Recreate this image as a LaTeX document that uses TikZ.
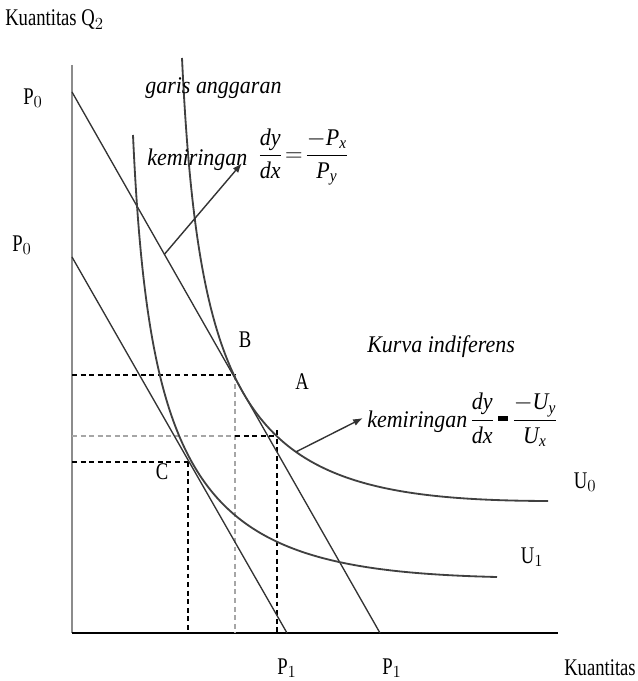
\documentclass[tikz,border=0pt]{standalone}
\usepackage{amsmath}
\usepackage{fontspec}
\setmainfont[FakeStretch=0.78,ItalicFeatures={FakeStretch=0.92}]{Liberation Serif}
\usepackage{tikz}
\usetikzlibrary{arrows.meta}

\begin{document}
\begin{tikzpicture}[x=0.025cm, y=-0.025cm,
    every node/.style={font=\fontsize{17}{19}\selectfont, inner sep=0pt},
    axis/.style={line width=1pt, black!45},
    budget/.style={line width=0.95pt, black!80},
    icurve/.style={line width=1.3pt, black!75},
    guide/.style={line width=1.1pt, dash pattern=on 3.5pt off 2.6pt},
    pointer/.style={-{Latex[length=7pt,width=5pt]}, line width=1pt, black!80}]
  \useasboundingbox (0,0) rectangle (637,681);
  \clip (0,0) rectangle (637,681);

  % axes
  \coordinate (O) at (72,633);
  \coordinate (ytop) at (72,65);
  \coordinate (xend) at (558,633);
  \draw[axis] (ytop) -- (O);
  \draw[line width=2pt] (O) -- (xend);

  % points of tangency
  \coordinate (B) at (235,375);
  \coordinate (A) at (277,436);
  \coordinate (C) at (188,462);

  % dashed guides
  \draw[guide] (72,375) -- (B);
  \draw[guide, black!35] (B) -- (235,633);
  \draw[guide, black!35] (72,436) -- (235,436);
  \draw[guide] (235,436) -- (A);
  \draw[guide] (277,430) -- (277,633);
  \draw[guide] (72,462) -- (C);
  \draw[guide] (C) -- (188,633);

  % budget lines
  \coordinate (b0top) at (72,92);
  \coordinate (b0end) at (380,633);
  \coordinate (b1top) at (72,257);
  \coordinate (b1end) at (287,633);
  \draw[budget] (b0top) -- coordinate[pos=0.3] (bsrc) (b0end);
  \draw[budget] (b1top) -- (b1end);

  % indifference curves
  \coordinate (u0top) at (182,58);
  \coordinate (u0end) at (548,501);
  \coordinate (u1top) at (133,135);
  \coordinate (u1end) at (497,577);
  \draw[icurve] (u0top) .. controls (200,440) and (260,500) .. coordinate[pos=0.59] (usrc) (u0end);
  \draw[icurve] (u1top) .. controls (150,510) and (210,570) .. (u1end);

  % labels
  \node[anchor=west] (q2) at (5,20) {Kuantitas Q$_2$};
  \node (p0a) at (33,98) {P$_0$};
  \node (p0b) at (22,245) {P$_0$};
  \node[anchor=west] (garis) at (145,88) {\textit{garis anggaran}};
  \node[anchor=west] (kem1) at (147,160) {\textit{kemiringan}};
  \node[anchor=west] (eq1) at (258,157)
    {$\dfrac{\textit{dy}}{\textit{dx}}\!=\!\dfrac{-\textit{P}_{\textit{x}}}{\textit{P}_{\textit{y}}}$};
  \node (lB) at (245,340) {B};
  \node (lA) at (302,382) {A};
  \node (lC) at (162,472) {C};
  \node[anchor=west] (kurva) at (367,347) {\textit{Kurva indiferens}};
  \node[anchor=west] (kem2) at (367,422) {\textit{kemiringan}};
  \node[anchor=west] (eq2) at (470,420)
    {$\dfrac{\textit{dy}}{\textit{dx}}\,\rule[0.22em]{0.4em}{0.2em}\,\dfrac{-\textit{U}_{\textit{y}}}{\textit{U}_{\textit{x}}}$};
  \node (u0) at (585,482) {U$_0$};
  \node (u1) at (532,557) {U$_1$};
  \node (p1a) at (287,668) {P$_1$};
  \node (p1b) at (392,668) {P$_1$};
  \node[anchor=east] (qx) at (636,668) {Kuantitas};

  % slope pointers
  \coordinate (btip) at (242,163);
  \coordinate (utip) at (363,418);
  \draw[pointer] (bsrc) -- (btip);
  \draw[pointer] (usrc) -- (utip);
\end{tikzpicture}
\end{document}
